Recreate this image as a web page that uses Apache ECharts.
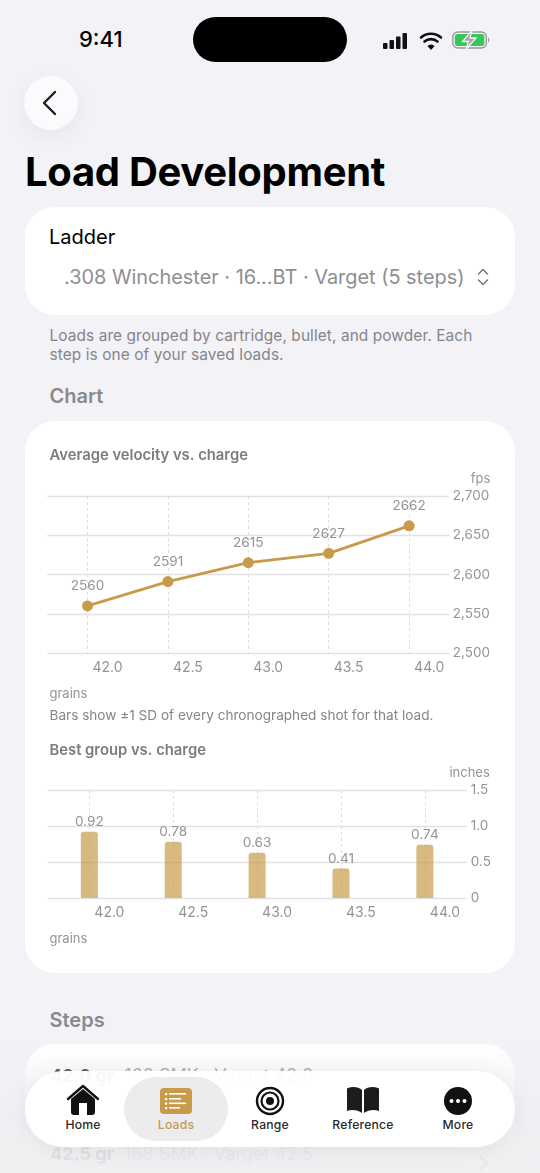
<!DOCTYPE html>
<html>
<head>
<meta charset="utf-8">
<title>Load Development</title>
<script src="https://cdn.jsdelivr.net/npm/echarts@6/dist/echarts.min.js"></script>
<style>
html, body { margin: 0; padding: 0; }
body { width: 540px; height: 1173px; overflow: hidden; position: relative; background: #f2f2f7; font-family: Inter, "Noto Sans", sans-serif; color: #000; }
.abs { position: absolute; white-space: nowrap; }
.card { position: absolute; left: 25px; width: 490px; background: #fff; border-radius: 30px; }
.note { left: 49.5px; font-size: 15.4px; color: #85858a; line-height: 19px; letter-spacing: .1px; }
.head { left: 49.5px; font-size: 20px; font-weight: 600; color: #8a8a8e; }
#chart { position: absolute; left: 0; top: 0; width: 540px; height: 975px; }
#tabbar { position: absolute; left: 25px; top: 1071px; width: 490px; height: 76px; border-radius: 38px; background: rgba(255,255,255,.94); box-shadow: 0 4px 24px rgba(0,0,0,.07); }
#pill { position: absolute; left: 99px; top: 6px; width: 104px; height: 64px; border-radius: 32px; background: #ececee; }
.tab { position: absolute; top: 46px; transform: translateX(-50%); font-size: 12.2px; font-weight: 500; letter-spacing: .2px; color: #2a2a2c; white-space: nowrap; }
.ic { position: absolute; }
#fade { position: absolute; left: 0; top: 1044px; width: 540px; height: 129px; background: linear-gradient(rgba(242,242,247,0), rgba(240,240,244,.55) 30%, rgba(240,240,243,.92) 80%, rgba(240,240,243,.95)); }
</style>
</head>
<body>
<div class="abs" style="left:79px;top:26px;font-size:22px;font-weight:500;">9:41</div>
<div class="abs" style="left:193px;top:17px;width:154px;height:45px;border-radius:23px;background:#000;"></div>
<svg class="ic" style="left:380px;top:29px" width="66" height="24" viewBox="0 0 66 24">
	<rect x="3" y="14" width="4.500" height="6" rx="1" fill="#111"/><rect x="9.500" y="11" width="4.500" height="9" rx="1" fill="#111"/><rect x="16" y="7.500" width="4.500" height="12.500" rx="1" fill="#111"/><rect x="22.500" y="4" width="4.500" height="16" rx="1" fill="#111"/>
	<path d="M41 8.500a15 15 0 0 1 20 0M44.500 12.500a10 10 0 0 1 13 0" fill="none" stroke="#111" stroke-width="2.600" stroke-linecap="round"/><path d="M51 21l-3.600-4a5 5 0 0 1 7.200 0z" fill="#111"/>
</svg>
<svg class="ic" style="left:451px;top:30px" width="40" height="20" viewBox="0 0 40 20">
	<rect x="1.800" y="2" width="33.500" height="16" rx="5" fill="none" stroke="#9a9a9e" stroke-width="1.400"/>
	<rect x="3.800" y="4" width="29.500" height="12" rx="3" fill="#34c759"/>
	<path d="M37 7.500v5c1.700-.5 1.700-4.500 0-5z" fill="#9a9a9e"/>
	<path d="M21 0.500L11.500 11.500h6l-2.500 8 10-11.500h-6z" fill="#a5a5a8" stroke="#f2f2f7" stroke-width="1.300"/>
</svg>

<div class="abs" style="left:24px;top:76px;width:54px;height:54px;border-radius:27px;background:#fbfbfe;box-shadow:0 6px 22px rgba(0,0,0,.06);"></div>
<svg class="ic" style="left:36px;top:88px" width="30" height="30" viewBox="0 0 30 30"><path d="M19 4L8 15l11 11" fill="none" stroke="#1c1c1e" stroke-width="2.400" stroke-linecap="round" stroke-linejoin="round"/></svg>

<div class="abs" style="left:25px;top:147px;font-size:40px;font-weight:700;letter-spacing:-.3px;">Load Development</div>

<div class="card" style="top:207px;height:108px;"></div>
<div class="abs" style="left:49px;top:225px;font-size:20px;">Ladder</div>
<div class="abs" style="left:64px;top:265px;font-size:19.9px;color:#8e8e93;">.308 Winchester · 16...BT · Varget (5 steps)</div>
<svg class="ic" style="left:475px;top:266px" width="16" height="22" viewBox="0 0 16 22"><path d="M3.500 8l4.500-4.500 4.500 4.500M3.500 14l4.500 4.500 4.500-4.500" fill="none" stroke="#77777b" stroke-width="1.500" stroke-linecap="round" stroke-linejoin="round"/></svg>
<div class="abs note" style="top:326px;">Loads are grouped by cartridge, bullet, and powder. Each<br>step is one of your saved loads.</div>
<div class="abs head" style="top:384px;">Chart</div>

<div class="card" style="top:421px;height:552px;"></div>
<div id="chart"></div>

<div class="abs head" style="top:1008px;">Steps</div>
<div class="card" style="top:1044px;height:160px;"></div>
<div class="abs" style="left:50px;top:1065px;font-size:18px;color:#8e8e93;"><b style="color:#111;">42.0 gr</b>&nbsp; 168 SMK · Varget 42.0</div>
<div class="abs" style="left:50px;top:1143px;font-size:18px;color:#8e8e93;"><b style="color:#222;">42.5 gr</b>&nbsp; 168 SMK · Varget 42.5</div>
<svg class="ic" style="left:474px;top:1152px" width="16" height="21" viewBox="0 0 16 21"><path d="M5 3l8 8-8 8" fill="none" stroke="#777" stroke-width="2"/></svg>
<div id="fade"></div>

<div id="tabbar">
	<div id="pill"></div>
	<svg class="ic" style="left:41px;top:13px" width="34" height="32" viewBox="0 0 34 32"><path d="M2 15L17 2l15 13" fill="none" stroke="#111" stroke-width="2.400" stroke-linecap="round" stroke-linejoin="round"/><path d="M5 15L17 5l12 10v13a3 3 0 0 1-3 3H8a3 3 0 0 1-3-3z" fill="#111"/><rect x="13" y="19" width="8" height="12" fill="#fff"/></svg>
	<svg class="ic" style="left:134px;top:16px" width="34" height="28" viewBox="0 0 34 28"><rect x="1" y="1" width="32" height="26" rx="4" fill="#c89b4a"/><g fill="#fff"><rect x="6" y="6" width="2.200" height="2.200"/><rect x="6" y="11" width="2.200" height="2.200"/><rect x="6" y="15.500" width="2.200" height="2.200"/><rect x="6" y="20" width="2.200" height="2.200"/><rect x="10" y="6" width="17" height="1.600"/><rect x="10" y="11" width="12" height="1.600"/><rect x="10" y="15.500" width="17" height="1.600"/><rect x="10" y="20" width="11" height="1.600"/></g></svg>
	<svg class="ic" style="left:230px;top:15px" width="30" height="30" viewBox="0 0 30 30"><circle cx="15" cy="15" r="13" fill="none" stroke="#111" stroke-width="2.400"/><circle cx="15" cy="15" r="8.500" fill="none" stroke="#111" stroke-width="2.200"/><circle cx="15" cy="15" r="4" fill="#111"/></svg>
	<svg class="ic" style="left:321px;top:14px" width="34" height="30" viewBox="0 0 34 30"><path d="M16 5C13 2 7 1 2 3a1 1 0 0 0-1 1v22c5-2 11-1 15 2zM18 5c3-3 9-4 14-2a1 1 0 0 1 1 1v22c-5-2-11-1-15 2z" fill="#1c1c1e"/></svg>
	<svg class="ic" style="left:418px;top:15px" width="30" height="30" viewBox="0 0 30 30"><circle cx="15" cy="15" r="14" fill="#111"/><circle cx="8.500" cy="15" r="2" fill="#fff"/><circle cx="15" cy="15" r="2" fill="#fff"/><circle cx="21.500" cy="15" r="2" fill="#fff"/></svg>
	<div class="tab" style="left:58px;">Home</div>
	<div class="tab" style="left:151px;color:#c89b4a;">Loads</div>
	<div class="tab" style="left:245px;">Range</div>
	<div class="tab" style="left:338px;">Reference</div>
	<div class="tab" style="left:433px;">More</div>
</div>

<script>
var charges = ['42.0', '42.5', '43.0', '43.5', '44.0'];
var avgVelocity = [2560, 2591, 2615, 2627, 2662];
var bestGroup = [0.92, 0.78, 0.63, 0.41, 0.74];

var fontName = 'Inter';
var gold = '#c89b4a';
var textGrey = '#949498';
var gridGrey = '#e2e2e5';
var dashGrey = '#dedee2';

function xAxisFor(gridIndex) {
	return {
		type: 'category',
		gridIndex: gridIndex,
		data: charges,
		boundaryGap: true,
		axisLine: { show: false },
		axisTick: {
			alignWithLabel: true,
			length: 22,
			lineStyle: { color: dashGrey, type: [3, 3], width: 1 }
		},
		splitLine: {
			show: true,
			alignWithLabel: true,
			lineStyle: { color: dashGrey, type: [3, 3], width: 1 }
		},
		axisLabel: {
			interval: 0,
			align: 'left',
			margin: 8,
			padding: [0, 0, 0, 5],
			color: textGrey,
			fontFamily: fontName,
			fontSize: 14
		}
	};
}

function yAxisFor(gridIndex, name, min, max, interval, formatter, margin, namePad) {
	return {
		type: 'value',
		gridIndex: gridIndex,
		position: 'right',
		name: name,
		nameLocation: 'end',
		nameGap: 10,
		nameTextStyle: {
			color: textGrey,
			fontFamily: fontName,
			fontSize: 13,
			align: 'right',
			padding: [0, namePad, 0, 0]
		},
		min: min,
		max: max,
		interval: interval,
		axisLine: { show: false },
		axisTick: { show: false },
		splitLine: { lineStyle: { color: gridGrey, width: 1.3 } },
		axisLabel: {
			margin: margin,
			padding: [3, 0, 0, 0],
			color: textGrey,
			fontFamily: fontName,
			fontSize: 13.5,
			formatter: formatter
		}
	};
}

function textTitle(text, top, size, weight, color) {
	return {
		text: text,
		left: 49.5,
		top: top,
		padding: 0,
		textStyle: { color: color, fontFamily: fontName, fontSize: size, fontWeight: weight }
	};
}

var myChart = echarts.init(document.getElementById('chart'), null, { renderer: 'canvas' });

myChart.setOption({
	animation: false,
	backgroundColor: 'transparent',
	title: [
		textTitle('Average velocity vs. charge', 448, 14.8, 600, '#7c7c80'),
		textTitle('grains', 687.5, 13, 400, textGrey),
		textTitle('Bars show ±1 SD of every chronographed shot for that load.', 709, 13.6, 400, '#85858a'),
		textTitle('Best group vs. charge', 743, 14.8, 600, '#7c7c80'),
		textTitle('grains', 932.5, 13, 400, textGrey)
	],
	grid: [
		{ left: 47.3, top: 496, width: 402, height: 157 },
		{ left: 47.4, top: 790, width: 419.4, height: 108 }
	],
	xAxis: [xAxisFor(0), xAxisFor(1)],
	yAxis: [
		yAxisFor(0, 'fps', 2500, 2700, 50, function(v) {
			return v.toLocaleString('en-US');
		}, 3.5, -41),
		yAxisFor(1, 'inches', 0, 1.5, 0.5, function(v) {
			return v === 0 ? '0' : v.toFixed(1);
		}, 4, -23)
	],
	series: [
		{
			type: 'line',
			xAxisIndex: 0,
			yAxisIndex: 0,
			data: avgVelocity,
			symbol: 'circle',
			symbolSize: 11,
			lineStyle: { color: gold, width: 2.8 },
			itemStyle: { color: gold },
			label: {
				show: true,
				position: 'top',
				distance: 7,
				color: textGrey,
				fontFamily: fontName,
				fontSize: 13.6
			}
		},
		{
			type: 'bar',
			xAxisIndex: 1,
			yAxisIndex: 1,
			data: bestGroup,
			barWidth: 17,
			itemStyle: { color: 'rgba(200,155,74,0.7)', borderRadius: [3, 3, 0, 0] },
			label: {
				show: true,
				position: 'top',
				distance: 3,
				color: textGrey,
				fontFamily: fontName,
				fontSize: 13.6,
				formatter: function(p) {
					return p.value.toFixed(2);
				}
			}
		}
	]
});
</script>
</body>
</html>
